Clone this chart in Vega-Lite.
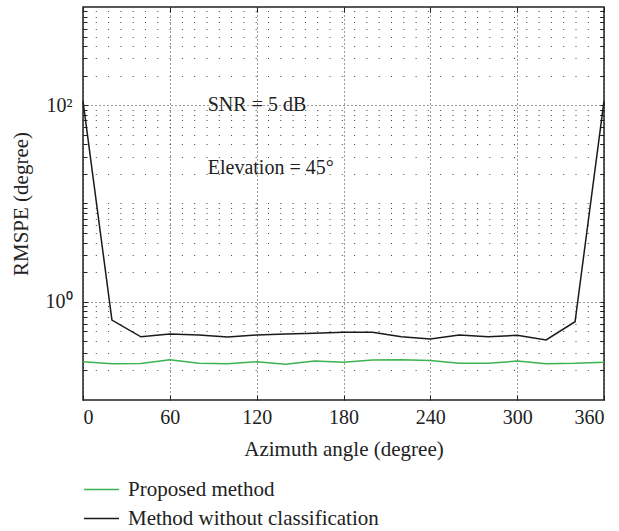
{
  "$schema": "https://vega.github.io/schema/vega-lite/v6.json",
  "width": 521,
  "height": 393,
  "autosize": "none",
  "padding": {"left": 83, "top": 7, "right": 15, "bottom": 131},
  "background": "white",
  "config": {
    "view": {"stroke": "#222", "strokeWidth": 1.5},
    "font": "Liberation Serif",
    "axis": {"labelFont": "Liberation Serif", "titleFont": "Liberation Serif", "labelColor": "#222", "titleColor": "#222", "titleFontWeight": "normal"},
    "legend": {"labelFont": "Liberation Serif"}
  },
  "datasets": {
    "curves": [
      {"az": 0, "rmspe": 0.245, "method": "Proposed method"},
      {"az": 20, "rmspe": 0.234, "method": "Proposed method"},
      {"az": 40, "rmspe": 0.235, "method": "Proposed method"},
      {"az": 60, "rmspe": 0.257, "method": "Proposed method"},
      {"az": 80, "rmspe": 0.236, "method": "Proposed method"},
      {"az": 100, "rmspe": 0.234, "method": "Proposed method"},
      {"az": 120, "rmspe": 0.245, "method": "Proposed method"},
      {"az": 140, "rmspe": 0.231, "method": "Proposed method"},
      {"az": 160, "rmspe": 0.249, "method": "Proposed method"},
      {"az": 180, "rmspe": 0.242, "method": "Proposed method"},
      {"az": 200, "rmspe": 0.255, "method": "Proposed method"},
      {"az": 220, "rmspe": 0.257, "method": "Proposed method"},
      {"az": 240, "rmspe": 0.252, "method": "Proposed method"},
      {"az": 260, "rmspe": 0.236, "method": "Proposed method"},
      {"az": 280, "rmspe": 0.236, "method": "Proposed method"},
      {"az": 300, "rmspe": 0.249, "method": "Proposed method"},
      {"az": 320, "rmspe": 0.234, "method": "Proposed method"},
      {"az": 340, "rmspe": 0.236, "method": "Proposed method"},
      {"az": 360, "rmspe": 0.242, "method": "Proposed method"},
      {"az": 0, "rmspe": 110, "method": "Method without classification"},
      {"az": 20, "rmspe": 0.65, "method": "Method without classification"},
      {"az": 40, "rmspe": 0.44, "method": "Method without classification"},
      {"az": 60, "rmspe": 0.47, "method": "Method without classification"},
      {"az": 80, "rmspe": 0.46, "method": "Method without classification"},
      {"az": 100, "rmspe": 0.437, "method": "Method without classification"},
      {"az": 120, "rmspe": 0.458, "method": "Method without classification"},
      {"az": 140, "rmspe": 0.469, "method": "Method without classification"},
      {"az": 160, "rmspe": 0.477, "method": "Method without classification"},
      {"az": 180, "rmspe": 0.488, "method": "Method without classification"},
      {"az": 200, "rmspe": 0.488, "method": "Method without classification"},
      {"az": 220, "rmspe": 0.44, "method": "Method without classification"},
      {"az": 240, "rmspe": 0.417, "method": "Method without classification"},
      {"az": 260, "rmspe": 0.46, "method": "Method without classification"},
      {"az": 280, "rmspe": 0.44, "method": "Method without classification"},
      {"az": 300, "rmspe": 0.455, "method": "Method without classification"},
      {"az": 320, "rmspe": 0.408, "method": "Method without classification"},
      {"az": 340, "rmspe": 0.626, "method": "Method without classification"},
      {"az": 360, "rmspe": 110, "method": "Method without classification"}
    ],
    "notes": [
      {"az": 86.2, "rmspe": 100, "label": "SNR = 5 dB"},
      {"az": 86.2, "rmspe": 23, "label": "Elevation = 45°"}
    ]
  },
  "layer": [
    {
      "data": {"name": "curves"},
      "mark": {"type": "line", "opacity": 0},
      "encoding": {
        "x": {"field": "az", "type": "quantitative", "scale": {"domain": [0, 360], "nice": false, "zero": false},
          "axis": {"orient": "top", "values": [0, 60, 120, 180, 240, 300, 360], "grid": false, "labels": false, "ticks": true, "tickSize": -5, "tickColor": "#222", "domain": false, "title": null}},
        "y": {"field": "rmspe", "type": "quantitative", "scale": {"type": "log", "domain": [0.1, 1000], "nice": false},
          "axis": {"orient": "right", "values": [0.2,0.3,0.4,0.5,0.6,0.7,0.8,0.9,1,2,3,4,5,6,7,8,9,10,20,30,40,50,60,70,80,90,100,200,300,400,500,600,700,800,900], "grid": false, "labels": false, "ticks": true, "tickSize": -4, "tickColor": "#222", "domain": false, "title": null}}
      }
    },
    {
      "data": {"name": "curves"},
      "mark": {"type": "line", "opacity": 0},
      "encoding": {
        "x": {"field": "az", "type": "quantitative", "scale": {"domain": [0, 360], "nice": false, "zero": false}, "axis": null},
        "y": {"field": "rmspe", "type": "quantitative", "scale": {"type": "log", "domain": [0.1, 1000], "nice": false},
          "axis": {"orient": "left", "values": [0.2,0.3,0.4,0.5,0.6,0.7,0.8,0.9,2,3,4,5,6,7,8,9,10,20,30,40,50,60,70,80,90,200,300,400,500,600,700,800,900], "grid": true, "gridDash": [1, 11.3], "gridColor": "#222", "gridOpacity": 0.85, "labels": false, "ticks": true, "tickSize": -4, "tickColor": "#222", "domain": false, "title": null}}
      }
    },
    {
      "data": {"name": "curves"},
      "mark": {"type": "line", "strokeWidth": 1.5},
      "encoding": {
        "x": {"field": "az", "type": "quantitative", "scale": {"domain": [0, 360], "nice": false, "zero": false},
          "axis": {"orient": "bottom", "values": [0, 60, 120, 180, 240, 300, 360], "grid": true, "gridDash": [1, 3], "gridColor": "#222", "gridOpacity": 0.9, "tickSize": -5, "tickColor": "#222", "domain": false, "labelFontSize": 20, "labelPadding": 12, "title": "Azimuth angle (degree)", "titleFontSize": 21, "titlePadding": 11}},
        "y": {"field": "rmspe", "type": "quantitative", "scale": {"type": "log", "domain": [0.1, 1000], "nice": false},
          "axis": {"orient": "left", "values": [1, 100], "labelExpr": "datum.value == 1 ? '10⁰' : '10²'", "grid": true, "gridDash": [1, 3], "gridColor": "#222", "gridOpacity": 0.9, "tickSize": -5, "tickColor": "#222", "domain": false, "labelFontSize": 20, "labelPadding": 16, "title": "RMSPE (degree)", "titleFontSize": 21, "titlePadding": 14}},
        "color": {"field": "method", "type": "nominal",
          "scale": {"domain": ["Proposed method", "Method without classification"], "range": ["#3cb34f", "#1a1a1a"]},
          "legend": {"title": null, "orient": "none", "legendX": 0, "legendY": 464, "direction": "vertical", "symbolType": "stroke", "symbolSize": 1225, "symbolStrokeWidth": 1.5, "labelFontSize": 21, "labelColor": "#222", "labelOffset": 8, "labelLimit": 500, "rowPadding": -6}}
      }
    },
    {
      "data": {"name": "notes"},
      "mark": {"type": "text", "align": "left", "baseline": "middle", "fontSize": 20, "font": "Liberation Serif", "color": "#222"},
      "encoding": {
        "x": {"field": "az", "type": "quantitative", "axis": null},
        "y": {"field": "rmspe", "type": "quantitative", "axis": null},
        "text": {"field": "label"}
      }
    }
  ],
  "resolve": {"axis": {"x": "independent", "y": "independent"}}
}
